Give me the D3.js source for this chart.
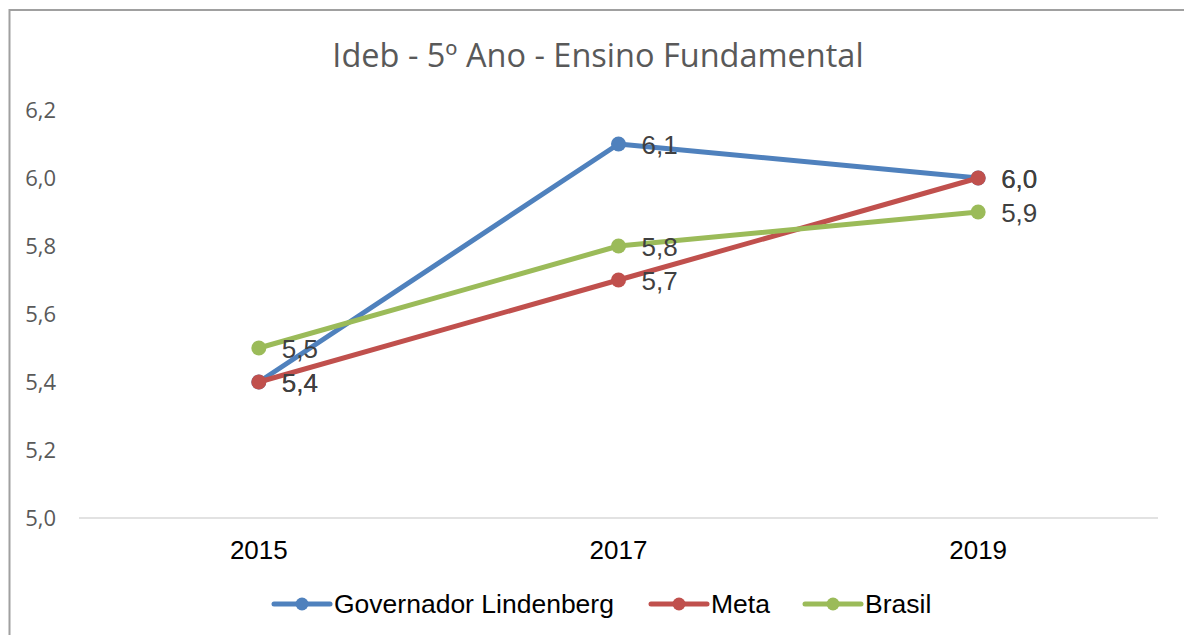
<!DOCTYPE html>
<html lang="pt">
<head>
<meta charset="UTF-8">
<title>Ideb - 5º Ano</title>
<script src="https://cdn.jsdelivr.net/npm/d3@7"></script>
<style>
    body { margin: 0; padding: 0; background: #ffffff; }
    svg { display: block; }
    .ytick text { font-family: "Open Sans", sans-serif; font-size: 22px; fill: #595959; }
    .xtick text { font-family: "Liberation Sans", Arial, sans-serif; font-size: 26px; fill: #000; }
    .chart-title { font-family: "Open Sans", sans-serif; font-size: 32.5px; fill: #595959; text-anchor: middle; }
    .data-label { font-family: "Liberation Sans", Arial, sans-serif; font-size: 26px; fill: #404040; }
    .legend text { font-family: "Liberation Sans", Arial, sans-serif; font-size: 26.5px; fill: #000; }
</style>
</head>
<body>
<div id="chart"></div>
<script>
    // data
    var years = ["2015", "2017", "2019"];
    var governador = [5.4, 6.1, 6.0];
    var meta = [5.4, 5.7, 6.0];
    var brasil = [5.5, 5.8, 5.9];
    var yTicks = [5.0, 5.2, 5.4, 5.6, 5.8, 6.0, 6.2];

    var seriesNames = ["Governador Lindenberg", "Meta", "Brasil"];
    var seriesValues = [governador, meta, brasil];
    var colors = ["#4F81BD", "#C0504D", "#9BBB59"];

    var width = 1184, height = 635;
    var plot = { left: 79, right: 1158, top: 110, bottom: 518 };

    var svg = d3.select("#chart").append("svg")
        .attr("width", width)
        .attr("height", height);

    // chart border
    svg.append("rect")
        .attr("x", 9.5).attr("y", 10)
        .attr("width", width + 20).attr("height", height + 20)
        .attr("fill", "#fff")
        .attr("stroke", "#a0a0a0")
        .attr("stroke-width", 2);

    var x = d3.scaleBand().domain(years).range([plot.left, plot.right]);
    var y = d3.scaleLinear().domain([5.0, 6.2]).range([plot.bottom, plot.top]);

    svg.append("text")
        .attr("class", "chart-title")
        .attr("x", 598).attr("y", 67)
        .text("Ideb - 5º Ano - Ensino Fundamental");

    // y axis (labels only)
    var yAxis = svg.append("g")
        .attr("class", "ytick")
        .attr("transform", "translate(56,0)")
        .call(d3.axisLeft(y).tickValues(yTicks).tickSize(0).tickPadding(0)
            .tickFormat(function(d) { return d3.format(".1f")(d).replace(".", ","); }));
    yAxis.select(".domain").remove();

    // x axis baseline
    svg.append("line")
        .attr("x1", plot.left).attr("x2", plot.right)
        .attr("y1", y(5.0)).attr("y2", y(5.0))
        .attr("stroke", "#d9d9d9").attr("stroke-width", 1.5);

    var xAxis = svg.append("g")
        .attr("class", "xtick")
        .attr("transform", "translate(0," + y(5.0) + ")")
        .call(d3.axisBottom(x).tickSize(0).tickPadding(23));
    xAxis.select(".domain").remove();

    var line = d3.line()
        .x(function(d, i) { return x(years[i]) + x.bandwidth() / 2; })
        .y(function(d) { return y(d); });

    seriesValues.forEach(function(vals, s) {
        var g = svg.append("g");
        g.append("path")
            .attr("d", line(vals))
            .attr("fill", "none")
            .attr("stroke", colors[s])
            .attr("stroke-width", 5)
            .attr("stroke-linejoin", "round");
        g.selectAll("circle")
            .data(vals)
            .join("circle")
            .attr("cx", function(d, i) { return x(years[i]) + x.bandwidth() / 2; })
            .attr("cy", function(d) { return y(d); })
            .attr("r", 7.5)
            .attr("fill", colors[s]);
    });

    // data labels
    seriesValues.forEach(function(vals, s) {
        svg.append("g").selectAll("text")
            .data(vals)
            .join("text")
            .attr("class", "data-label")
            .attr("x", function(d, i) { return x(years[i]) + x.bandwidth() / 2 + 23; })
            .attr("y", function(d) { return y(d) + 10; })
            .text(function(d) { return d3.format(".1f")(d).replace(".", ","); });
    });

    // legend
    var legendX = [274, 651, 805];
    var legend = svg.selectAll(".legend")
        .data(seriesNames)
        .join("g")
        .attr("class", "legend")
        .attr("transform", function(d, i) { return "translate(" + legendX[i] + ",604)"; });
    legend.append("line")
        .attr("x1", 0).attr("x2", 56)
        .attr("stroke", function(d, i) { return colors[i]; })
        .attr("stroke-width", 5)
        .attr("stroke-linecap", "round");
    legend.append("circle")
        .attr("cx", 28).attr("r", 6.5)
        .attr("fill", function(d, i) { return colors[i]; });
    legend.append("text")
        .attr("x", 60).attr("y", 9)
        .text(function(d) { return d; });
</script>
</body>
</html>
